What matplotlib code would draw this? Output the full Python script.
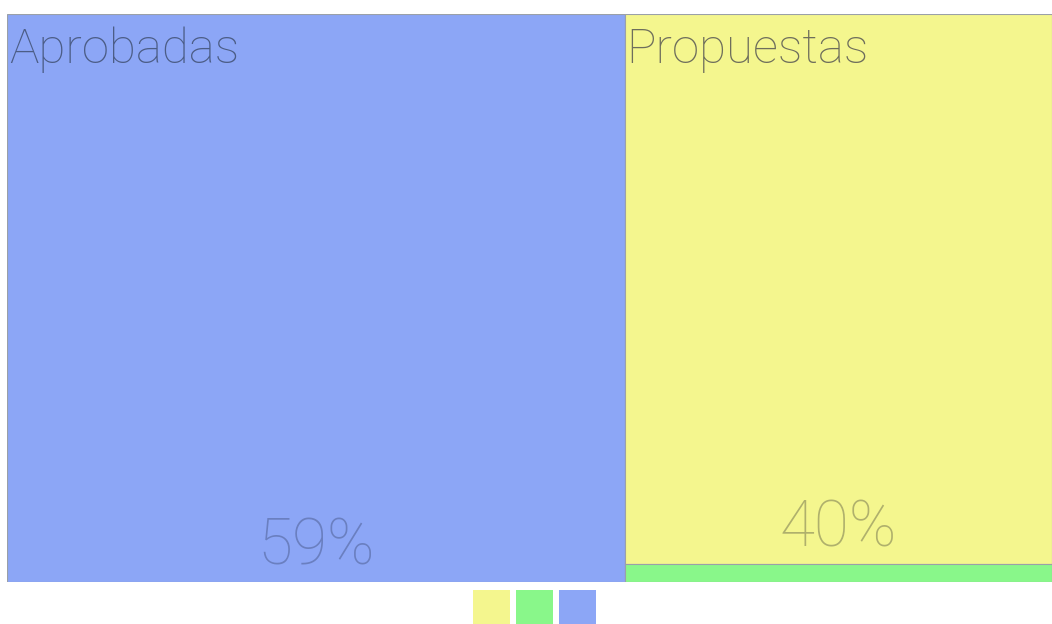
import matplotlib.pyplot as plt
from matplotlib.patches import Rectangle

categories = ["Aprobadas", "Propuestas", "Rechazadas"]
values = [59.1, 39.6, 1.3]
colors = ["#8ca6f6", "#f4f68e", "#89f78a"]
legend_order = [1, 2, 0]  # yellow, green, blue

plt.rcParams['font.family'] = ['Roboto', 'DejaVu Sans']

fig = plt.figure(figsize=(10.52, 6.24), dpi=100)
ax = fig.add_axes([7 / 1052, 42 / 624, 1045 / 1052, 568 / 624])
ax.set_xlim(0, 1)
ax.set_ylim(0, 1)
ax.axis("off")

total = sum(values)
w0 = values[0] / total
rest = total - values[0]

# first item takes the full height, the others stack in the right column
rects = [(0, 0, w0, 1)]
y = 1
for v in values[1:]:
    h = v / rest
    y -= h
    rects.append((w0, y, 1 - w0, h))

for (x0, y0, w, h), c in zip(rects, colors):
    ax.add_patch(Rectangle((x0, y0), w, h, facecolor=c, edgecolor="#9aa0a8", linewidth=0.8))

label_colors = ["#4c5d86", "#6e6e5c"]
pct_colors = ["#6a7fc0", "#afb06c"]
for i in range(2):
    x0, y0, w, h = rects[i]
    ax.text(x0 + 0.002, y0 + h - 0.022, categories[i], fontsize=35.5, fontweight="light",
            color=label_colors[i], ha="left", va="top")
    ax.text(x0 + w / 2, y0 + 0.03, f"{values[i]:.0f}%", fontsize=46, fontweight="light",
            color=pct_colors[i], ha="center", va="baseline")

# legend squares, no text
lax = fig.add_axes([473 / 1052, 0, 124 / 1052, 34 / 624])
lax.set_xlim(0, 124)
lax.set_ylim(0, 34)
lax.axis("off")
for k, i in enumerate(legend_order):
    lax.add_patch(Rectangle((k * 43, 0), 37, 34, facecolor=colors[i], edgecolor="none"))

fig.savefig("out.png", dpi=100)
